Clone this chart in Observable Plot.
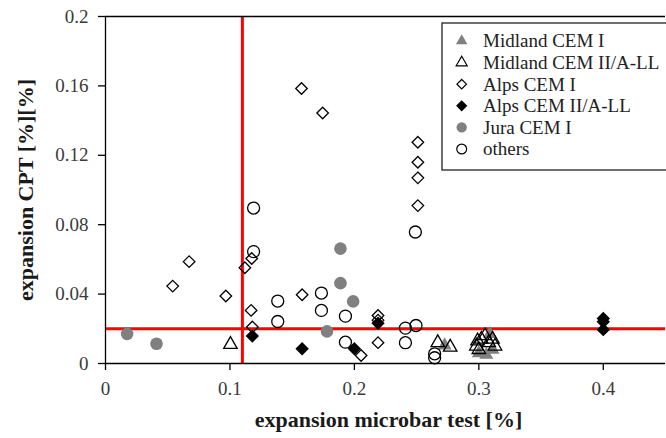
<!DOCTYPE html>
<html><head><meta charset="utf-8">
<script src="https://cdn.jsdelivr.net/npm/d3@7"></script>
<script src="https://cdn.jsdelivr.net/npm/@observablehq/plot@0.6"></script>
<style>body{margin:0;background:#fff}</style>
</head><body><div id="chart"></div>
<script>
// ---- data ----
const seriesNames = ["Midland CEM I", "Midland CEM II/A-LL", "Alps CEM I", "Alps CEM II/A-LL", "Jura CEM I", "others"];

const midlandCEMI_x = [0.2725, 0.300, 0.306, 0.309, 0.311];
const midlandCEMI_y = [0.0104, 0.006, 0.005, 0.017, 0.008];

const midlandCEMII_x = [0.1004, 0.267, 0.277, 0.298, 0.299, 0.300, 0.302, 0.305, 0.308, 0.311, 0.313];
const midlandCEMII_y = [0.011, 0.012, 0.0094, 0.010, 0.013, 0.008, 0.014, 0.016, 0.012, 0.014, 0.010];

const alpsCEMI_x = [0.054, 0.0672, 0.0967, 0.112, 0.1175, 0.117, 0.118, 0.158, 0.1575, 0.1745, 0.2054, 0.219, 0.219, 0.219, 0.251, 0.251, 0.251, 0.251];
const alpsCEMI_y = [0.0446, 0.0587, 0.0389, 0.0552, 0.0605, 0.0306, 0.021, 0.0396, 0.1585, 0.1444, 0.0046, 0.0277, 0.025, 0.012, 0.1275, 0.116, 0.107, 0.091];

const alpsCEMII_x = [0.118, 0.158, 0.200, 0.219, 0.400, 0.400, 0.400];
const alpsCEMII_y = [0.0158, 0.0085, 0.0085, 0.0232, 0.026, 0.024, 0.0195];

const juraCEMI_x = [0.0174, 0.041, 0.178, 0.1888, 0.1888, 0.199];
const juraCEMI_y = [0.0171, 0.0114, 0.0185, 0.0662, 0.0463, 0.0358];

const others_x = [0.119, 0.119, 0.1384, 0.1384, 0.1735, 0.1735, 0.1928, 0.1928, 0.241, 0.2495, 0.241, 0.249, 0.2645, 0.2645];
const others_y = [0.0896, 0.0645, 0.036, 0.0242, 0.0406, 0.0306, 0.0273, 0.0123, 0.0204, 0.0219, 0.012, 0.0758, 0.0056, 0.0033];

const xTicks = [0, 0.1, 0.2, 0.3, 0.4];
const yTicks = [0, 0.04, 0.08, 0.12, 0.16, 0.2];
const xThreshold = [0.11];
const yThreshold = [0.02];
const xTitle = "expansion microbar test [%]";
const yTitle = "expansion CPT [%][%]";

// ---- build tables ----
const zipXY = (xs, ys) => xs.map((x, i) => ({x, y: ys[i]}));
const styles = [
  {symbol: "triangle", r: 5.2, fill: "#808080", stroke: "none"},
  {symbol: "triangle", r: 5.0, fill: "none", stroke: "black"},
  {symbol: "diamond2", r: 5.2, fill: "none", stroke: "black"},
  {symbol: "diamond2", r: 5.2, fill: "black", stroke: "black"},
  {symbol: "circle", r: 6.3, fill: "#808080", stroke: "none"},
  {symbol: "circle", r: 6, fill: "none", stroke: "black"}
];
const tables = [
  zipXY(midlandCEMI_x, midlandCEMI_y),
  zipXY(midlandCEMII_x, midlandCEMII_y),
  zipXY(alpsCEMI_x, alpsCEMI_y),
  zipXY(alpsCEMII_x, alpsCEMII_y),
  zipXY(juraCEMI_x, juraCEMI_y),
  zipXY(others_x, others_y)
];
const fmt = d => d === 0 ? "0" : String(d);
const font = "'Liberation Serif', 'DejaVu Serif', serif";

const chart = Plot.plot({
  width: 666, height: 438,
  marginLeft: 105, marginRight: 1, marginTop: 16, marginBottom: 75,
  style: {fontFamily: font, fontSize: "19px", background: "#fff"},
  x: {domain: [0, 0.45]},
  y: {domain: [0, 0.2]},
  marks: [
    Plot.ruleY(yThreshold, {stroke: "#ff0000", strokeWidth: 3}),
    Plot.ruleX(xThreshold, {stroke: "#ff0000", strokeWidth: 3}),
    Plot.ruleY([0.2], {stroke: "black", strokeWidth: 1.3}),
    Plot.ruleY([0], {stroke: "black", strokeWidth: 1.3}),
    Plot.ruleX([0], {stroke: "black", strokeWidth: 1.3}),
    Plot.axisX({ticks: xTicks, tickFormat: fmt, tickSize: 7, tickPadding: 11, stroke: "black", strokeWidth: 1.3, fill: "#3a3a3a", label: null}),
    Plot.axisY({ticks: yTicks, tickFormat: fmt, tickSize: 7, tickPadding: 10, stroke: "black", strokeWidth: 1.3, fill: "#3a3a3a", label: null}),
    ...tables.map((t, i) => Plot.dot(t, {x: "x", y: "y", symbol: styles[i].symbol, r: styles[i].r, fill: styles[i].fill, stroke: styles[i].stroke, strokeWidth: 1.3})),
    Plot.text([xTitle], {text: d => d, frameAnchor: "bottom", dy: 56, dx: 3, textAnchor: "middle", lineAnchor: "middle", fontWeight: "bold", fontSize: 22, fill: "#1a1a1a"}),
    Plot.text([yTitle], {text: d => d, frameAnchor: "left", rotate: -90, dx: -80, textAnchor: "middle", lineAnchor: "middle", fontWeight: "bold", fontSize: 22, fill: "#1a1a1a"})
  ]
});

// ---- legend box inside the plot area ----
const svg = d3.select(chart);
const lg = svg.append("g").attr("font-family", font).attr("font-size", 19).attr("text-anchor", "start");
lg.append("rect").attr("x", 442).attr("y", 23).attr("width", 240).attr("height", 147)
  .attr("fill", "white").attr("stroke", "#222").attr("stroke-width", 1.3);
const symMap = {triangle: d3.symbolTriangle, diamond2: d3.symbolDiamond2, circle: d3.symbolCircle};
seriesNames.forEach((name, i) => {
  const cy = 41 + i * 21.6;
  const s = styles[i];
  const rr = s.r * 0.82;
  lg.append("path").attr("d", d3.symbol(symMap[s.symbol], rr * rr * Math.PI)())
    .attr("transform", `translate(461.7,${cy})`)
    .attr("fill", s.fill).attr("stroke", s.stroke).attr("stroke-width", 1.2);
  lg.append("text").attr("x", 483).attr("y", cy).attr("dy", "0.34em").attr("text-anchor", "start").attr("fill", "#222").text(name);
});

document.getElementById("chart").appendChild(chart);
</script>
</body></html>
